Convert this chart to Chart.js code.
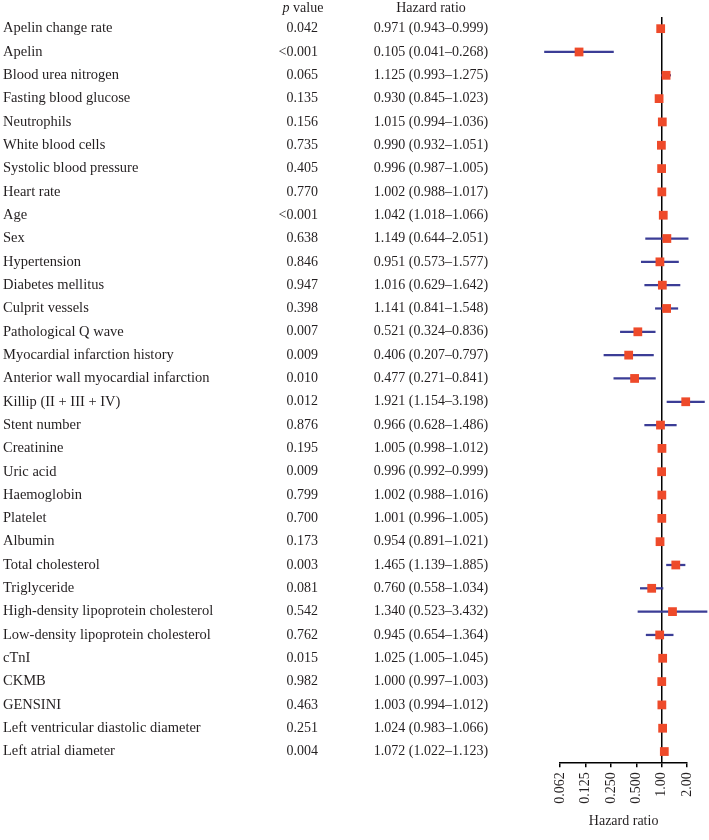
<!DOCTYPE html>
<html>
<head>
<meta charset="utf-8">
<script src="https://cdn.jsdelivr.net/npm/chart.js@4/dist/chart.umd.min.js"></script>
<style>
  html, body { margin: 0; padding: 0; background: #fff; }
  #forest { display: block; }
</style>
</head>
<body>
<canvas id="forest" width="709" height="840"></canvas>
<script>
// Variables (rows, top to bottom)
const variables = [
  'Apelin change rate', 'Apelin', 'Blood urea nitrogen', 'Fasting blood glucose',
  'Neutrophils', 'White blood cells', 'Systolic blood pressure', 'Heart rate',
  'Age', 'Sex', 'Hypertension', 'Diabetes mellitus', 'Culprit vessels',
  'Pathological Q wave', 'Myocardial infarction history',
  'Anterior wall myocardial infarction', 'Killip (II + III + IV)', 'Stent number',
  'Creatinine', 'Uric acid', 'Haemoglobin', 'Platelet', 'Albumin',
  'Total cholesterol', 'Triglyceride', 'High-density lipoprotein cholesterol',
  'Low-density lipoprotein cholesterol', 'cTnI', 'CKMB', 'GENSINI',
  'Left ventricular diastolic diameter', 'Left atrial diameter'
];

const pValues = [
  '0.042', '<0.001', '0.065', '0.135', '0.156', '0.735', '0.405', '0.770',
  '<0.001', '0.638', '0.846', '0.947', '0.398', '0.007', '0.009', '0.010',
  '0.012', '0.876', '0.195', '0.009', '0.799', '0.700', '0.173', '0.003',
  '0.081', '0.542', '0.762', '0.015', '0.982', '0.463', '0.251', '0.004'
];

const hazardRatio = [
  0.971, 0.105, 1.125, 0.930, 1.015, 0.990, 0.996, 1.002,
  1.042, 1.149, 0.951, 1.016, 1.141, 0.521, 0.406, 0.477,
  1.921, 0.966, 1.005, 0.996, 1.002, 1.001, 0.954, 1.465,
  0.760, 1.340, 0.945, 1.025, 1.000, 1.003, 1.024, 1.072
];

const ciLower = [
  0.943, 0.041, 0.993, 0.845, 0.994, 0.932, 0.987, 0.988,
  1.018, 0.644, 0.573, 0.629, 0.841, 0.324, 0.207, 0.271,
  1.154, 0.628, 0.998, 0.992, 0.988, 0.996, 0.891, 1.139,
  0.558, 0.523, 0.654, 1.005, 0.997, 0.994, 0.983, 1.022
];

const ciUpper = [
  0.999, 0.268, 1.275, 1.023, 1.036, 1.051, 1.005, 1.017,
  1.066, 2.051, 1.577, 1.642, 1.548, 0.836, 0.797, 0.841,
  3.198, 1.486, 1.012, 0.999, 1.016, 1.005, 1.021, 1.885,
  1.034, 3.432, 1.364, 1.045, 1.003, 1.012, 1.066, 1.123
];

const xTickValues = [0.0625, 0.125, 0.25, 0.5, 1, 2];
const xTickLabels = ['0.062', '0.125', '0.250', '0.500', '1.00', '2.00'];
const refValue = 1;

const textColor = '#231f20';
const serif = '"Liberation Serif", "DejaVu Serif", serif';

// Draws the reference line plus the p value / hazard ratio text columns
const columnsPlugin = {
  id: 'forestColumns',
  beforeDatasetsDraw(chart) {
    const { ctx, chartArea, scales: { x } } = chart;
    const px = x.getPixelForValue(refValue);
    ctx.save();
    ctx.strokeStyle = '#000';
    ctx.lineWidth = 1.5;
    ctx.beginPath();
    ctx.moveTo(px, chartArea.top);
    ctx.lineTo(px, chartArea.bottom);
    ctx.stroke();
    ctx.restore();
  },
  afterDraw(chart) {
    const { ctx, scales: { y } } = chart;
    ctx.save();
    ctx.fillStyle = textColor;
    ctx.textBaseline = 'middle';
    ctx.font = '14px ' + serif;

    // headers
    const headerY = 8;
    const rest = ' value';
    ctx.font = 'italic 14px ' + serif;
    const wp = ctx.measureText('p').width;
    ctx.font = '14px ' + serif;
    const wr = ctx.measureText(rest).width;
    const hx = 303 - (wp + wr) / 2;
    ctx.textAlign = 'left';
    ctx.font = 'italic 14px ' + serif;
    ctx.fillText('p', hx, headerY);
    ctx.font = '14px ' + serif;
    ctx.fillText(rest, hx + wp, headerY);
    ctx.textAlign = 'center';
    ctx.fillText('Hazard ratio', 431, headerY);

    variables.forEach((name, i) => {
      const py = y.getPixelForValue(i);
      ctx.textAlign = 'right';
      ctx.fillText(pValues[i], 318, py);
      ctx.textAlign = 'center';
      const txt = hazardRatio[i].toFixed(3) + ' (' + ciLower[i].toFixed(3) + '\u2013' + ciUpper[i].toFixed(3) + ')';
      ctx.fillText(txt, 431, py);
    });
    ctx.restore();
  }
};

const ctx = document.getElementById('forest').getContext('2d');
new Chart(ctx, {
  type: 'bar',
  data: {
    labels: variables,
    datasets: [{
      type: 'line',
      label: 'Hazard ratio',
      data: hazardRatio,
      showLine: false,
      pointStyle: 'rect',
      pointRadius: 6.2,
      pointBackgroundColor: '#ee4a2a',
      pointBorderWidth: 0,
      clip: false,
      order: 0
    }, {
      label: '95% CI',
      data: ciLower.map((lo, i) => [lo, ciUpper[i]]),
      backgroundColor: '#3b3d96',
      borderWidth: 0,
      barThickness: 1.6,
      clip: false,
      order: 1
    }]
  },
  options: {
    indexAxis: 'y',
    responsive: false,
    devicePixelRatio: 1,
    animation: false,
    layout: { padding: { left: 3, top: 17, right: 21, bottom: 10 } },
    plugins: {
      legend: { display: false },
      tooltip: { enabled: false }
    },
    scales: {
      x: {
        type: 'logarithmic',
        min: 0.0625,
        max: 2,
        afterBuildTicks: axis => {
          axis.ticks = xTickValues.map(v => ({ value: v }));
        },
        border: { display: true, color: '#000', width: 1.5 },
        grid: {
          drawOnChartArea: false,
          drawTicks: true,
          tickLength: 4,
          color: '#000',
          lineWidth: 1.5
        },
        ticks: {
          color: textColor,
          font: { family: serif, size: 14 },
          padding: 5,
          minRotation: 90,
          maxRotation: 90,
          autoSkip: false,
          callback: (value, index) => xTickLabels[index]
        },
        title: {
          display: true,
          text: 'Hazard ratio',
          color: textColor,
          font: { family: serif, size: 14 },
          padding: { top: 4.5, bottom: 0 }
        }
      },
      y: {
        type: 'category',
        offset: true,
        afterFit: scale => { scale.width = 557; },
        border: { display: false },
        grid: { display: false },
        ticks: {
          color: textColor,
          crossAlign: 'far',
          autoSkip: false,
          font: { family: serif, size: 14.5 }
        }
      }
    }
  },
  plugins: [columnsPlugin]
});
</script>
</body>
</html>
